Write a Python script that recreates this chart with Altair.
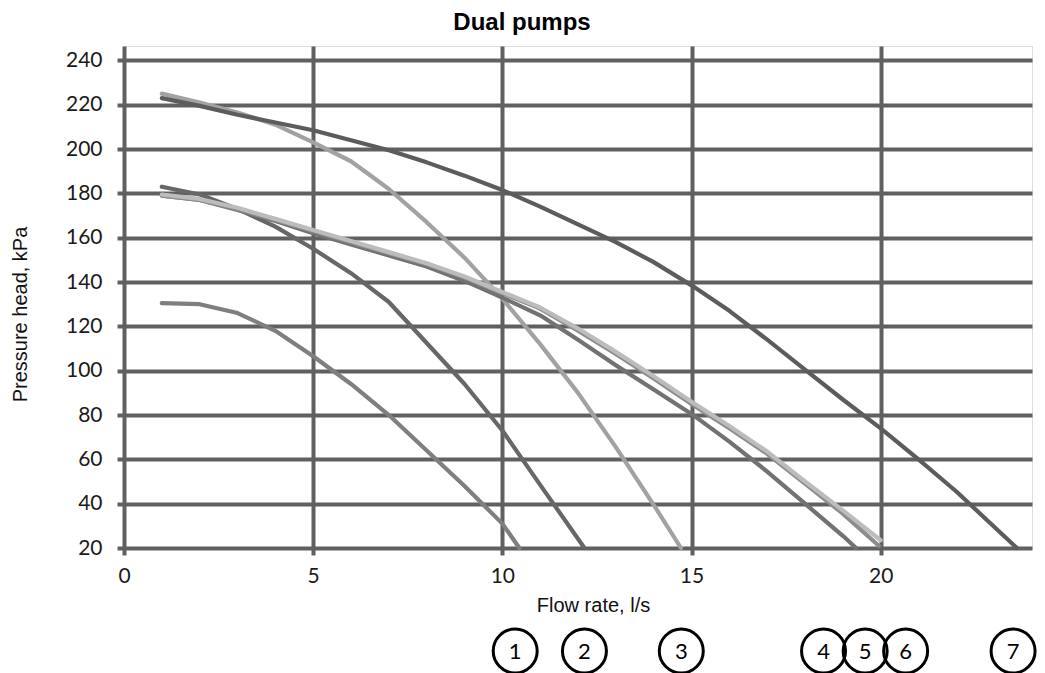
import altair as alt
import pandas as pd

# ---- data ----
flow_1 = [1, 2, 3, 4, 5, 6, 7, 8, 9, 10, 10.45]
head_1 = [130.5, 130, 126, 118, 106.5, 94, 80, 64, 48, 31, 20]

flow_2 = [1, 2, 3, 4, 5, 6, 7, 8, 9, 10, 11, 12.17]
head_2 = [183, 179.5, 173, 165, 155, 144, 131, 112.5, 94, 73, 48.5, 20]

flow_3 = [1, 2, 3, 4, 5, 6, 7, 8, 9, 10, 11, 12, 13, 14, 14.72]
head_3 = [225, 221, 216.5, 211, 203, 194.5, 182, 167, 151, 132.5, 112, 90, 65.5, 39.5, 20]

flow_4 = [1, 2, 3, 4, 5, 6, 7, 8, 9, 10, 11, 12, 13, 14, 15, 16, 17, 18, 19, 19.35]
head_4 = [179, 177, 172.5, 167.5, 162, 157, 152, 147, 140.5, 133, 125, 114, 102.5, 91.5, 80.5, 68, 54.5, 40, 25.5, 20]

flow_5 = [1, 2, 3, 4, 5, 6, 7, 8, 9, 10, 11, 12, 13, 14, 15, 16, 17, 18, 19, 19.95]
head_5 = [179, 177, 173, 168, 163, 158, 153, 148, 142, 135, 128, 118, 107.5, 96.5, 85, 74, 62.5, 49, 35.5, 21]

flow_6 = [1, 2, 3, 4, 5, 6, 7, 8, 9, 10, 11, 12, 13, 14, 15, 16, 17, 18, 19, 20]
head_6 = [179.5, 177.5, 173.5, 168.5, 163.5, 158.5, 153.5, 148.5, 142.5, 135.5, 128.5, 119, 108.5, 97.5, 86, 75, 63.5, 50, 37, 23.5]

flow_7 = [1, 2, 3, 4, 5, 6, 7, 8, 9, 10, 11, 12, 13, 14, 15, 16, 17, 18, 19, 20, 21, 22, 23.6]
head_7 = [223, 219.5, 215.5, 212, 208.5, 204, 199.5, 194, 188, 181.5, 174, 166, 158, 149, 138.5, 127, 114, 100.5, 87, 74, 60, 45.5, 20]

pump_names = ["1", "2", "3", "4", "5", "6", "7"]
pump_colors = ["#7f7f7f", "#676767", "#a2a2a2", "#727272", "#8c8c8c", "#bcbcbc", "#5c5c5c"]

marker_labels = ["1", "2", "3", "4", "5", "6", "7"]
marker_flow = [10.34, 12.17, 14.73, 18.49, 19.59, 20.66, 23.5]

x_ticks = [0, 5, 10, 15, 20]
y_ticks = [20, 40, 60, 80, 100, 120, 140, 160, 180, 200, 220, 240]

GRID = "#606060"

x_enc = alt.X(
    "flow:Q",
    scale=alt.Scale(domain=[0, 24], nice=False, zero=False),
    axis=alt.Axis(
        values=x_ticks, title="Flow rate, l/s", grid=True, gridColor=GRID, gridWidth=4,
        domain=False, ticks=True, tickColor=GRID, tickWidth=4, tickSize=7,
        labelFont="Lato", labelFontSize=21, labelColor="#1a1a1a", labelPadding=10,
        labelFlush=False,
        titleFont="Liberation Sans", titleFontSize=20, titleFontWeight="normal",
        titleColor="#111111", titleX=469, titleY=57, titleBaseline="middle", titleAlign="center",
    ),
)
y_enc = alt.Y(
    "head:Q",
    scale=alt.Scale(domain=[20, 246.5], nice=False, zero=False),
    axis=alt.Axis(
        values=y_ticks, title="Pressure head, kPa", grid=True, gridColor=GRID, gridWidth=4,
        domain=False, ticks=True, tickColor=GRID, tickWidth=4, tickSize=7,
        labelFont="Lato", labelFontSize=21, labelColor="#1a1a1a", labelPadding=15,
        titleFont="Liberation Sans", titleFontSize=20, titleFontWeight="normal",
        titleColor="#111111", titleX=-104, titleY=268, titleAngle=270,
        titleBaseline="middle", titleAlign="center",
    ),
)

all_flow = [flow_1, flow_2, flow_3, flow_4, flow_5, flow_6, flow_7]
all_head = [head_1, head_2, head_3, head_4, head_5, head_6, head_7]

layers = []
for name, fl, hd, col in zip(pump_names, all_flow, all_head, pump_colors):
    df = pd.DataFrame({"flow": fl, "head": hd, "pump": name})
    layers.append(
        alt.Chart(df).mark_line(color=col, strokeWidth=4.2, strokeCap="round", strokeJoin="round")
        .encode(x=x_enc, y=y_enc)
    )

mk = pd.DataFrame({"flow": marker_flow, "label": marker_labels})
circles = alt.Chart(mk).mark_point(
    shape="circle", filled=False, size=44 * 44, stroke="black", strokeWidth=3, opacity=1
).encode(x=alt.X("flow:Q"), y=alt.value(605))
numbers = alt.Chart(mk).mark_text(
    font="Lato", fontSize=22, color="black", align="center", baseline="middle"
).encode(x=alt.X("flow:Q"), y=alt.value(606), text="label:N")

chart = alt.layer(*layers, circles, numbers).properties(
    width=908,
    height=502,
    padding={"left": 116, "top": 38, "right": 5, "bottom": 125},
    autosize=alt.AutoSizeParams(type="none"),
    title=alt.TitleParams(
        "Dual pumps", font="Liberation Sans", fontSize=24, fontWeight="bold",
        color="black", anchor="middle", dx=-56, offset=11,
    ),
).configure_view(stroke=None).configure(background="white")

chart.save("out.html", embed_options={"renderer": "svg", "actions": False})
